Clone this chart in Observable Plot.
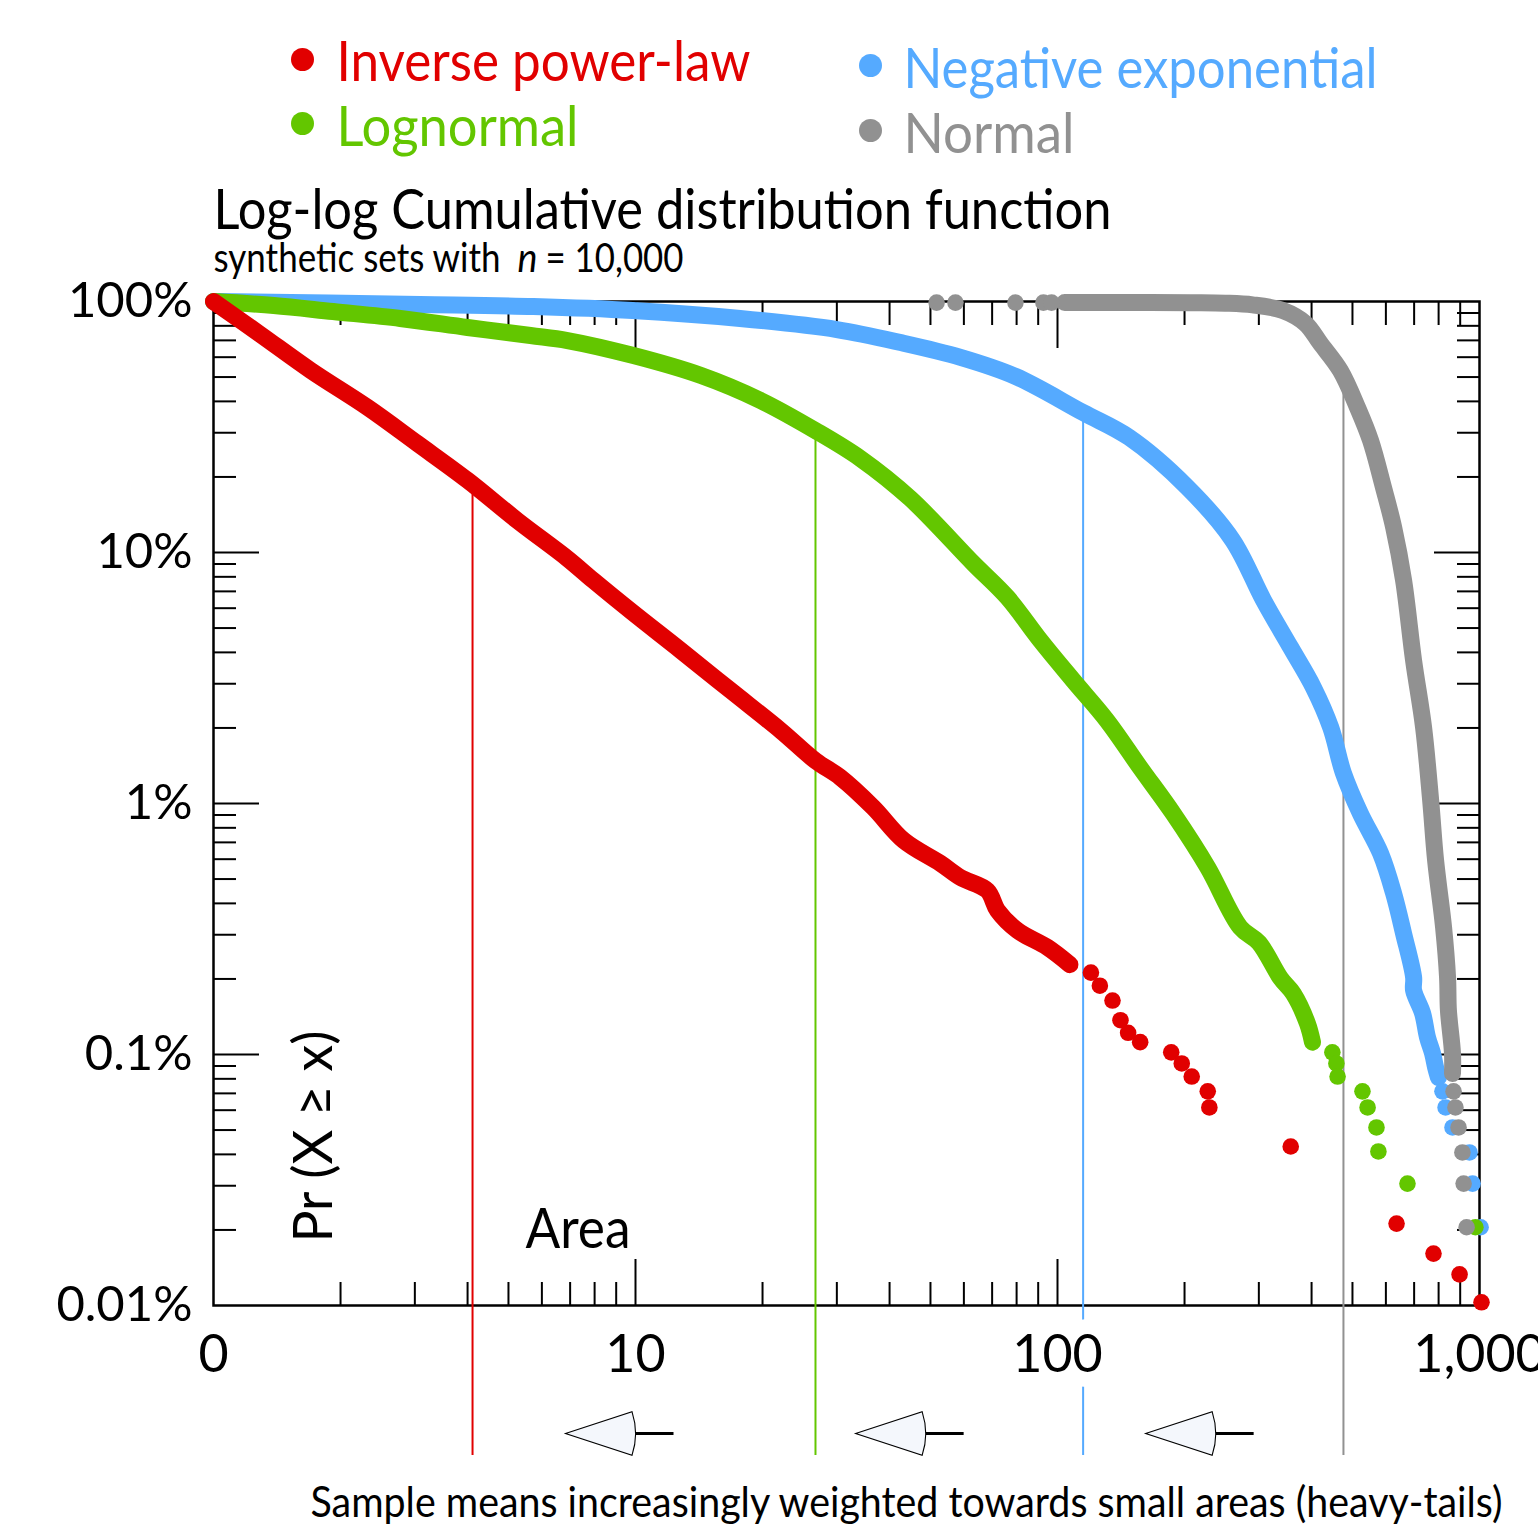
<!DOCTYPE html>
<html>
<head>
<meta charset="utf-8">
<script src="https://cdn.jsdelivr.net/npm/d3@7"></script>
<script src="https://cdn.jsdelivr.net/npm/@observablehq/plot@0.6"></script>
<style>
  html, body { margin: 0; padding: 0; background: #fff; }
  #chart svg text { paint-order: stroke; }
</style>
</head>
<body>
<div id="chart"></div>
<script>
// Four synthetic samples: legend names and colours
const seriesNames = ["Inverse power-law", "Lognormal", "Negative exponential", "Normal"];
const seriesColors = ["#e10000", "#63c600", "#55aaff", "#919191"];

// Complementary CDF, [area, Pr(X >= x) in %].
// "Run" = the densely packed part of each sample, "Sparse" = the isolated points.
const powerLawRun = [
  [1.00, 100], [1.29, 74.0], [1.70, 53.1], [2.32, 37.8], [3.04, 27.2], [4.00, 19.4],
  [5.25, 13.4], [6.90, 9.46], [7.95, 7.73], [9.84, 5.77], [12.8, 4.07], [16.8, 2.82],
  [22.1, 1.95], [26.7, 1.48], [30.6, 1.27], [36.6, 0.964], [43.2, 0.713], [52.8, 0.577],
  [58.9, 0.507], [68.2, 0.450], [72.1, 0.375], [80.4, 0.312], [94.7, 0.267], [107, 0.228]
];
const powerLawSparse = [
  [120, 0.212], [126, 0.188], [135, 0.164], [141, 0.137], [147, 0.122], [157, 0.112],
  [186, 0.102], [197, 0.0921], [208, 0.0817], [227, 0.0713], [229, 0.0615], [357, 0.0430],
  [636, 0.0212], [778, 0.0161], [897, 0.0133], [1011, 0.0103]
];

const lognormalRun = [
  [1.00, 100], [1.39, 96.4], [1.92, 91.2], [2.77, 85.6], [4.00, 78.8], [5.64, 73.2],
  [6.90, 69.9], [9.89, 60.9], [14.3, 50.7], [19.8, 40.3], [26.7, 30.6], [34.1, 23.7],
  [44.8, 16.4], [63.2, 9.04], [76.1, 6.62], [91.1, 4.46], [109, 3.09], [131, 2.14],
  [157, 1.39], [188, 0.912], [227, 0.556], [271, 0.321], [300, 0.279], [338, 0.201],
  [362, 0.175], [391, 0.133], [402, 0.112]
];
const lognormalSparse = [
  [448, 0.102], [458, 0.0921], [461, 0.0817], [528, 0.0713], [543, 0.0615],
  [570, 0.0512], [576, 0.0411], [675, 0.0306], [978, 0.0205]
];

const negExpRun = [
  [1.00, 100], [3.09, 97.3], [5.73, 95.5], [9.84, 92.1], [17.7, 85.6], [30.0, 77.3],
  [42.5, 68.6], [58.9, 59.9], [79.5, 50.3], [115, 36.1], [148, 28.7], [203, 18.2],
  [260, 11.2], [308, 6.44], [357, 4.18], [404, 2.90], [444, 2.01], [476, 1.32],
  [522, 0.912], [583, 0.632], [626, 0.438], [661, 0.303], [698, 0.203], [698, 0.180],
  [733, 0.146], [753, 0.117], [774, 0.101], [787, 0.0888], [799, 0.0810]
];
const negExpSparse = [
  [817, 0.0713], [831, 0.0615], [863, 0.0512], [947, 0.0407], [963, 0.0306], [1006, 0.0205]
];

const normalRun = [
  [104, 99], [166, 99], [210, 98.9], [250, 98.5], [290, 97.0], [342, 92.1], [387, 81.7],
  [420, 68.0], [468, 53.1], [514, 37.8], [552, 27.9], [592, 18.2], [626, 12.6],
  [661, 7.73], [698, 3.71], [737, 2.01], [766, 1.03], [787, 0.593], [822, 0.321],
  [840, 0.203], [844, 0.150], [863, 0.101], [863, 0.0840]
];
const normalSparse = [
  [51.7, 99], [57.3, 99], [79.5, 99], [92.6, 99], [96.8, 99],
  [868, 0.0713], [877, 0.0615], [892, 0.0512], [911, 0.0407], [917, 0.0306], [932, 0.0205]
];

// Sample means and the CCDF value where each mean meets its curve
const meanArea = [4.11, 26.7, 115, 476];
const meanPct = [18.5, 30.6, 36.1, 50];

// Axis ticks
const xTickValues = [1, 10, 100, 1000];
const xTickLabels = ["0", "10", "100", "1,000"];
const xMajorTicks = [10, 100];
const xMinorTicks = [2, 3, 4, 5, 6, 7, 8, 9, 20, 30, 40, 50, 60, 70, 80, 90,
                     200, 300, 400, 500, 600, 700, 800, 900];
const yTickValues = [0.01, 0.1, 1, 10, 100];
const yTickLabels = ["0.01%", "0.1%", "1%", "10%", "100%"];
const yMajorTicks = [0.1, 1, 10];
const yMinorTicks = [0.02, 0.03, 0.04, 0.05, 0.06, 0.07, 0.08, 0.09,
                     0.2, 0.3, 0.4, 0.5, 0.6, 0.7, 0.8, 0.9,
                     2, 3, 4, 5, 6, 7, 8, 9,
                     20, 30, 40, 50, 60, 70, 80, 90];

// "decreasing mean" arrows under the axis, placed along the area axis
const arrowAreas = [10, 48.7, 237];

const runs = [powerLawRun, lognormalRun, negExpRun, normalRun];
const sparse = [powerLawSparse, lognormalSparse, negExpSparse, normalSparse];
const drawOrder = [2, 1, 3, 0]; // red ends up on top

// ---------------------------------------------------------------------------
const W = 1538, H = 1530;
const M = {left: 213, right: 59, top: 301, bottom: 225};
const FONT = "Lato, 'Open Sans', sans-serif";

// free text placed by left edge and baseline (page pixels), squeezed to a width
const fitWidths = new Map();
function label(str, left, base, size, width, opts = {}) {
  fitWidths.set(str, width);
  return Plot.text([str], {
    text: d => d,
    frameAnchor: "top-left",
    dx: left - M.left,
    dy: base - M.top,
    textAnchor: "start",
    lineAnchor: "bottom",
    fontSize: size,
    fontFamily: FONT,
    fontStyle: opts.fontStyle,
    rotate: opts.rotate,
    fill: opts.fill || "black"
  });
}

// arrowhead: a narrow circular sector pointing left, apex of the arc at the origin
const cone = {
  draw(ctx) {
    const r = 70, a = 0.315;
    ctx.moveTo(-r, 0);
    ctx.lineTo(-r + r * Math.cos(a), -r * Math.sin(a));
    ctx.arc(-r, 0, r, -a, a);
    ctx.closePath();
  }
};
const tail = {
  draw(ctx) {
    ctx.moveTo(0, 0);
    ctx.lineTo(38, 0);
  }
};

const tickStyle = {fill: "none", label: null, strokeWidth: 2};

const marks = [
  // frame and inward ticks on all four sides
  Plot.frame({stroke: "black", strokeWidth: 2.5}),
  Plot.axisX(xMinorTicks, {anchor: "bottom", tickSize: -23, ...tickStyle}),
  Plot.axisX(xMajorTicks, {anchor: "bottom", tickSize: -46, ...tickStyle}),
  Plot.axisX(xMinorTicks, {anchor: "top", tickSize: -23, ...tickStyle}),
  Plot.axisX(xMajorTicks, {anchor: "top", tickSize: -46, ...tickStyle}),
  Plot.axisY(yMinorTicks, {anchor: "left", tickSize: -23, ...tickStyle}),
  Plot.axisY(yMajorTicks, {anchor: "left", tickSize: -46, ...tickStyle}),
  Plot.axisY(yMinorTicks, {anchor: "right", tickSize: -23, ...tickStyle}),
  Plot.axisY(yMajorTicks, {anchor: "right", tickSize: -46, ...tickStyle})
];

// mean markers: from the curve down past the axis
seriesNames.forEach((name, i) => {
  marks.push(Plot.ruleX([i], {
    x: j => meanArea[j],
    y1: j => meanPct[j],
    y2: () => 0.01,
    insetBottom: -150,
    stroke: seriesColors[i],
    strokeWidth: 2
  }));
});

// the four samples
for (const i of drawOrder) {
  marks.push(Plot.line(runs[i], {
    x: d => d[0], y: d => d[1],
    curve: "catmull-rom",
    stroke: seriesColors[i], strokeWidth: 17,
    strokeLinecap: "round", strokeLinejoin: "round"
  }));
  marks.push(Plot.dot(sparse[i], {
    x: d => d[0], y: d => d[1], r: 8.3, fill: seriesColors[i]
  }));
}

// tick labels
marks.push(Plot.text(yTickValues, {
  y: d => d, text: (d, i) => yTickLabels[i],
  frameAnchor: "left", dx: -21, textAnchor: "end", lineAnchor: "middle",
  fontSize: 49, fontFamily: FONT, fill: "black"
}));
marks.push(Plot.text(xTickValues, {
  x: d => d, text: (d, i) => xTickLabels[i],
  frameAnchor: "bottom", dy: 50, lineAnchor: "middle",
  fontSize: 52, fontFamily: FONT, fill: "black",
  stroke: "white", strokeWidth: 30, strokeLinejoin: "round"
}));

// arrows below the axis
marks.push(Plot.dot(arrowAreas, {
  x: d => d, frameAnchor: "bottom", dy: 128, symbol: tail,
  fill: "none", stroke: "black", strokeWidth: 3
}));
marks.push(Plot.dot(arrowAreas, {
  x: d => d, frameAnchor: "bottom", dy: 128, symbol: cone,
  fill: "#f4f7fc", stroke: "black", strokeWidth: 1.1
}));

// legend
const legendDotX = [302, 870];
const legendTextX = [336, 903];
const legendRowY = [[59, 123], [65, 130]];
const legendBase = [[80, 145], [87, 152]];
const legendWidths = [414, 242, 474, 171];
seriesNames.forEach((name, i) => {
  const col = i < 2 ? 0 : 1, row = i % 2;
  marks.push(Plot.dot([name], {
    frameAnchor: "top-left",
    dx: legendDotX[col] - M.left, dy: legendRowY[col][row] - M.top,
    r: 11.5, fill: seriesColors[i]
  }));
  marks.push(label(name, legendTextX[col], legendBase[col][row], 57, legendWidths[i], {fill: seriesColors[i]}));
});

// titles and axis captions
marks.push(label("Log-log Cumulative distribution function", 213, 228, 56, 898));
marks.push(label("synthetic sets with", 213, 271, 40, 287));
marks.push(label("n", 517, 271, 40, 20, {fontStyle: "italic"}));
marks.push(label("= 10,000", 545, 271, 40, 138));
marks.push(label("Area", 525, 1247, 56, 105));
marks.push(label("Pr (X \u2265 x)", 331, 1242, 55, 212, {rotate: -90}));
marks.push(label("Sample means increasingly weighted towards small areas (heavy-tails)", 310, 1516, 42, 1192));

const chart = Plot.plot({
  width: W,
  height: H,
  marginLeft: M.left,
  marginRight: M.right,
  marginTop: M.top,
  marginBottom: M.bottom,
  x: {type: "log", domain: [1, 1000]},
  y: {type: "log", domain: [0.01, 100]},
  style: {background: "white", fontFamily: FONT, color: "black", overflow: "visible"},
  marks
});

// squeeze the free text to the widths of the original lettering
for (const t of chart.querySelectorAll("text")) {
  const w = fitWidths.get(t.textContent);
  if (w) {
    t.setAttribute("textLength", w);
    t.setAttribute("lengthAdjust", "spacingAndGlyphs");
  }
}

document.getElementById("chart").appendChild(chart);
</script>
</body>
</html>
